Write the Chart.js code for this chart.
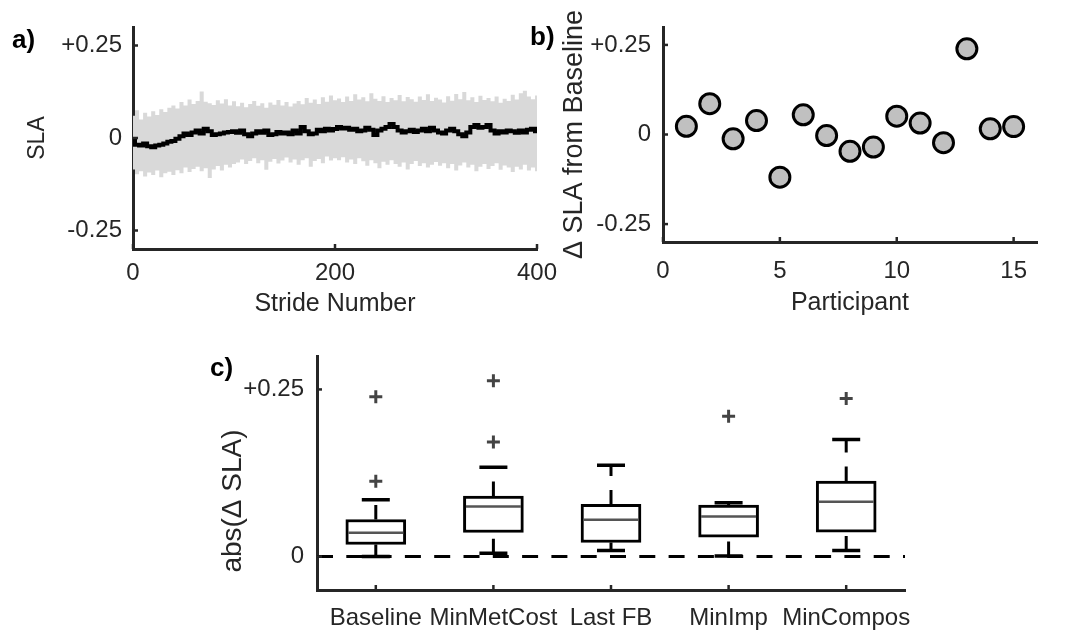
<!DOCTYPE html>
<html>
<head>
<meta charset="utf-8">
<script src="https://cdn.jsdelivr.net/npm/chart.js@4/dist/chart.umd.min.js"></script>
<style>
  html, body { margin: 0; padding: 0; background: #fff; }
  #wrap { position: relative; width: 1073px; height: 631px; overflow: hidden; }
  #wrap canvas { position: absolute; left: 0; top: 0; }
</style>
</head>
<body>
<div id="wrap">
  <canvas id="chartA" width="1073" height="631"></canvas>
  <canvas id="chartB" width="1073" height="631"></canvas>
  <canvas id="chartC" width="1073" height="631"></canvas>
</div>
<script>
// ---------- a) SLA over strides (sampled every 4 strides) ----------
const strideStep = 4;
const slaMean = [
  -0.005, -0.018, -0.02, -0.015, -0.022, -0.025, -0.02, -0.018, -0.015, -0.01,
  -0.008, -0.002, 0.005, 0.012, 0.008, 0.015, 0.02, 0.012, 0.025, 0.018,
  0.008, 0.01, 0.012, 0.015, 0.016, 0.018, 0.014, 0.02, 0.01, 0.005,
  0.012, 0.018, 0.014, 0.02, 0.008, 0.01, 0.016, 0.012, 0.015, 0.01,
  0.02, 0.012, 0.03, 0.018, 0.01, 0.012, 0.022, 0.018, 0.025, 0.02,
  0.024, 0.03, 0.026, 0.028, 0.022, 0.025, 0.018, 0.02, 0.028, 0.022,
  0.008, 0.02, 0.025, 0.03, 0.038, 0.03, 0.02, 0.015, 0.018, 0.022,
  0.016, 0.02, 0.025, 0.018, 0.028, 0.02, 0.015, 0.012, 0.02, 0.025,
  0.018, 0.01, 0.005, 0.015, 0.03, 0.035, 0.028, 0.03, 0.035, 0.02,
  0.012, 0.018, 0.015, 0.02, 0.018, 0.014, 0.02, 0.015, 0.022, 0.025,
  0.018
];
const slaUpper = [
  0.06, 0.075, 0.05, 0.068, 0.058, 0.072, 0.062, 0.078, 0.07, 0.082, 0.088,
  0.08, 0.097, 0.088, 0.104, 0.092, 0.1, 0.126, 0.098, 0.094, 0.089, 0.102, 0.093, 0.105, 0.088, 0.099,
  0.086, 0.095, 0.083, 0.092, 0.1, 0.087, 0.094, 0.082, 0.096, 0.09, 0.103, 0.088, 0.097, 0.085, 0.093,
  0.1, 0.091, 0.108, 0.095, 0.104, 0.092, 0.11, 0.098, 0.115, 0.102,
  0.107, 0.097, 0.112, 0.1, 0.118, 0.104, 0.11, 0.099, 0.121, 0.106, 0.1, 0.113, 0.097, 0.108, 0.102,
  0.116, 0.099, 0.111, 0.105, 0.098, 0.112, 0.103, 0.118, 0.1, 0.109,
  0.104, 0.096, 0.113, 0.101, 0.119, 0.105, 0.124, 0.102, 0.11, 0.097, 0.114, 0.103, 0.108, 0.099, 0.112,
  0.095, 0.106, 0.1, 0.117, 0.104, 0.121, 0.128, 0.112, 0.105, 0.115
];
const slaLower = [
  -0.085, -0.098, -0.09, -0.104, -0.093, -0.1, -0.088, -0.106, -0.095, -0.091, -0.1,
  -0.087, -0.095, -0.08, -0.092, -0.084, -0.078, -0.09, -0.082, -0.108, -0.085, -0.076, -0.088, -0.072, -0.08, -0.07,
  -0.066, -0.058, -0.07, -0.062, -0.055, -0.068, -0.06, -0.086, -0.064, -0.057, -0.069, -0.061, -0.053, -0.066, -0.058,
  -0.072, -0.06, -0.055, -0.078, -0.062, -0.057, -0.068, -0.05, -0.061, -0.055,
  -0.06, -0.052, -0.066, -0.058, -0.07, -0.055, -0.063, -0.075, -0.06, -0.068, -0.082, -0.064, -0.072, -0.06, -0.07,
  -0.078, -0.066, -0.085, -0.07, -0.062, -0.076, -0.068, -0.08, -0.072, -0.065,
  -0.075, -0.068, -0.082, -0.07, -0.088, -0.074, -0.066, -0.08, -0.072, -0.09, -0.078, -0.07, -0.084, -0.076, -0.068,
  -0.086, -0.074, -0.08, -0.092, -0.078, -0.085, -0.072, -0.088, -0.08, -0.09
];
const strideTicks = [0, 200, 400];
const strideTickLabels = ['0', '200', '400'];
const slaTicks = [-0.25, 0, 0.25];
const slaTickLabels = ['-0.25', '0', '+0.25'];

// ---------- b) change in SLA per participant ----------
const participants = [1, 2, 3, 4, 5, 6, 7, 8, 9, 10, 11, 12, 13, 14, 15];
const deltaSla = [0.023, 0.086, -0.012, 0.039, -0.119, 0.055, -0.003, -0.047, -0.035, 0.051, 0.032, -0.023, 0.239, 0.016, 0.022];
const participantTicks = [0, 5, 10, 15];
const participantTickLabels = ['0', '5', '10', '15'];

// ---------- c) abs(delta SLA) per condition ----------
const conditions = ['Baseline', 'MinMetCost', 'Last FB', 'MinImp', 'MinCompos'];
const boxQ1 = [0.018, 0.036, 0.021, 0.029, 0.0365];
const boxMedian = [0.0355, 0.075, 0.055, 0.060, 0.082];
const boxQ3 = [0.0555, 0.0905, 0.078, 0.077, 0.113];
const whiskerLow = [0.0, 0.005, 0.009, 0.001, 0.009];
const whiskerHigh = [0.085, 0.1335, 0.1365, 0.0805, 0.175];
const outlierValues = [[0.1125, 0.239], [0.1715, 0.263], [], [0.21], [0.2365]];
const absTicks = [0, 0.25];
const absTickLabels = ['0', '+0.25'];

// ---------- shared styling ----------
const FONT = "'Liberation Sans', Arial, Helvetica, sans-serif";
const AXIS = '#262626';
Chart.defaults.font.family = FONT;
Chart.defaults.color = AXIS;

const tickFont = { family: FONT, size: 24 };
const titleFont = size => ({ family: FONT, size: size });

// Linear axis with a fixed tick set and its own labels
function fixedScale(values, labels, tickPadding, extra) {
  return Object.assign({
    type: 'linear',
    offset: false,
    afterBuildTicks(scale) { scale.ticks = values.map(v => ({ value: v })); },
    grid: { display: false, drawTicks: false },
    border: { display: true, color: AXIS, width: 3 },
    ticks: {
      font: tickFont, color: AXIS, autoSkip: false, maxRotation: 0, padding: tickPadding,
      callback: (v) => { const k = values.indexOf(v); return k >= 0 ? labels[k] : ''; }
    }
  }, extra);
}

// Short tick marks pointing into the plot area
const inwardTicks = {
  id: 'inwardTicks',
  afterDatasetsDraw(chart) {
    const { ctx, chartArea: a } = chart;
    ctx.save();
    ctx.strokeStyle = AXIS;
    ctx.lineWidth = 2.5;
    for (const s of Object.values(chart.scales)) {
      if (!s.options.display) continue;
      s.ticks.forEach((t, i) => {
        const p = s.getPixelForTick(i);
        ctx.beginPath();
        if (s.isHorizontal()) { ctx.moveTo(p, a.bottom); ctx.lineTo(p, a.bottom - 5); }
        else { ctx.moveTo(a.left, p); ctx.lineTo(a.left + 5, p); }
        ctx.stroke();
      });
    }
    ctx.restore();
  }
};

// Free text (panel letters, rotated axis title)
const canvasText = {
  id: 'canvasText',
  afterDraw(chart, args, opts) {
    const ctx = chart.ctx;
    const items = opts.items || [];
    for (let i = 0; i < items.length; i++) {
      const it = items[i];
      ctx.save();
      ctx.font = `${it.weight || 'normal'} ${it.size}px ${FONT}`;
      ctx.fillStyle = it.color || '#000';
      ctx.textAlign = it.align || 'left';
      ctx.textBaseline = it.baseline || 'alphabetic';
      ctx.translate(it.x, it.y);
      if (it.rotate) ctx.rotate(it.rotate * Math.PI / 180);
      ctx.fillText(it.text, 0, 0);
      ctx.restore();
    }
  }
};

const baseOptions = {
  responsive: false,
  animation: false,
  events: [],
};

// ---------- chart a ----------
const stridePts = arr => arr.map((v, i) => ({ x: i * strideStep, y: v }));
new Chart(document.getElementById('chartA'), {
  type: 'line',
  data: {
    datasets: [
      { label: 'Mean SLA', data: stridePts(slaMean), borderColor: '#000', borderWidth: 4,
        pointRadius: 0, fill: false, stepped: 'middle', order: 0 },
      { label: 'Upper', data: stridePts(slaUpper), borderColor: 'rgba(0,0,0,0)', borderWidth: 0,
        pointRadius: 0, backgroundColor: '#d9d9d9', fill: '+1', stepped: 'middle', order: 1 },
      { label: 'Lower', data: stridePts(slaLower), borderColor: 'rgba(0,0,0,0)', borderWidth: 0,
        pointRadius: 0, fill: false, stepped: 'middle', order: 2 }
    ]
  },
  options: Object.assign({}, baseOptions, {
    layout: { padding: { left: 23, right: 536, top: 27, bottom: 312 } },
    plugins: {
      legend: { display: false }, tooltip: { enabled: false },
      canvasText: { items: [{ text: 'a)', x: 12, y: 48, size: 26, weight: 'bold' }] }
    },
    scales: {
      x: fixedScale(strideTicks, strideTickLabels, 10, {
        min: 0, max: 400,
        afterFit(s) { s.height = 70; },
        title: { display: true, text: 'Stride Number', font: titleFont(25), color: AXIS, padding: 0 },
      }),
      y: fixedScale(slaTicks, slaTickLabels, 11, {
        min: -0.3, max: 0.3,
        afterFit(s) { s.width = 110; },
        title: { display: true, text: 'SLA', font: titleFont(23), color: AXIS, padding: { top: 1 } },
      })
    }
  }),
  plugins: [inwardTicks, canvasText]
});

// ---------- chart b ----------
new Chart(document.getElementById('chartB'), {
  type: 'scatter',
  data: {
    datasets: [{
      label: 'Participants',
      data: participants.map((p, i) => ({ x: p, y: deltaSla[i] })),
      pointRadius: 10, pointBorderWidth: 3,
      backgroundColor: '#c0c0c0', borderColor: '#000', clip: false
    }]
  },
  options: Object.assign({}, baseOptions, {
    layout: { padding: { left: 553, right: 36, top: 27, bottom: 313 } },
    plugins: {
      legend: { display: false }, tooltip: { enabled: false },
      canvasText: { items: [{ text: 'b)', x: 530, y: 45, size: 26, weight: 'bold' }] }
    },
    scales: {
      x: fixedScale(participantTicks, participantTickLabels, 15, {
        min: 0, max: 16,
        afterFit(s) { s.height = 76; },
        title: { display: true, text: 'Participant', font: titleFont(25), color: AXIS, padding: 0 },
      }),
      y: fixedScale(slaTicks, slaTickLabels, 12, {
        min: -0.3, max: 0.3,
        afterFit(s) { s.width = 110; },
        title: { display: true, text: 'Δ SLA from Baseline', font: titleFont(27), color: AXIS, padding: { top: 5 } },
      })
    }
  }),
  plugins: [inwardTicks, canvasText]
});

// ---------- chart c ----------
const whiskerSegments = (from, to) => {
  const pts = [];
  conditions.forEach((c, i) => {
    pts.push({ x: c, y: from[i] }, { x: c, y: to[i] }, { x: c, y: null });
  });
  return pts;
};
const capPoints = [];
conditions.forEach((c, i) => {
  capPoints.push({ x: c, y: whiskerLow[i] }, { x: c, y: whiskerHigh[i] });
});
const outlierPoints = [];
conditions.forEach((c, i) => outlierValues[i].forEach(v => outlierPoints.push({ x: c, y: v })));

new Chart(document.getElementById('chartC'), {
  type: 'bar',
  data: {
    labels: conditions,
    datasets: [
      { type: 'line', label: 'Zero', xAxisID: 'x2', data: [{ x: 0.5, y: 0 }, { x: 5.5, y: 0 }],
        borderColor: '#000', borderWidth: 3, borderDash: [16, 13.3], pointRadius: 0, order: 6 },
      { type: 'line', label: 'Lower whisker', data: whiskerSegments(whiskerLow, boxQ1),
        borderColor: '#000', borderWidth: 3, borderDash: [14.5, 14], pointRadius: 0, spanGaps: false, order: 5 },
      { type: 'line', label: 'Upper whisker', data: whiskerSegments(boxQ3, whiskerHigh),
        borderColor: '#000', borderWidth: 3, borderDash: [14.5, 14], pointRadius: 0, spanGaps: false, order: 5 },
      { type: 'bar', label: 'IQR', data: conditions.map((c, i) => [boxQ1[i], boxQ3[i]]),
        backgroundColor: '#fff', borderColor: '#000', borderWidth: 3, borderSkipped: false,
        barThickness: 60, grouped: false, order: 4 },
      { type: 'line', label: 'Caps', data: capPoints, showLine: false, pointStyle: 'line',
        pointRadius: 14, pointBorderWidth: 3.5, borderColor: '#000', order: 2 },
      { type: 'line', label: 'Median', data: conditions.map((c, i) => ({ x: c, y: boxMedian[i] })),
        showLine: false, pointStyle: 'line', pointRadius: 27.5, pointBorderWidth: 2.5,
        borderColor: '#555', order: 1 },
      { type: 'line', label: 'Outliers', data: outlierPoints, showLine: false, pointStyle: 'cross',
        pointRadius: 6.5, pointBorderWidth: 3, borderColor: '#444', order: 0 }
    ]
  },
  options: Object.assign({}, baseOptions, {
    layout: { padding: { left: 207, right: 168, top: 356, bottom: 0 } },
    plugins: {
      legend: { display: false }, tooltip: { enabled: false },
      canvasText: { items: [
        { text: 'c)', x: 210, y: 376, size: 26, weight: 'bold' },
        { text: 'abs(Δ SLA)', x: 233, y: 501, size: 28, color: AXIS, rotate: -90, align: 'center', baseline: 'middle' }
      ] }
    },
    scales: {
      x: {
        type: 'category', offset: true,
        grid: { display: false, drawTicks: false },
        border: { display: true, color: AXIS, width: 3 },
        ticks: { font: tickFont, color: AXIS, autoSkip: false, maxRotation: 0, padding: 14 },
        afterFit(s) { s.height = 41; }
      },
      x2: { type: 'linear', min: 0.5, max: 5.5, offset: false, display: false },
      y: fixedScale(absTicks, absTickLabels, 13, {
        min: -0.05, max: 0.3,
        afterFit(s) { s.width = 110; }
      })
    }
  }),
  plugins: [inwardTicks, canvasText]
});
</script>
</body>
</html>
